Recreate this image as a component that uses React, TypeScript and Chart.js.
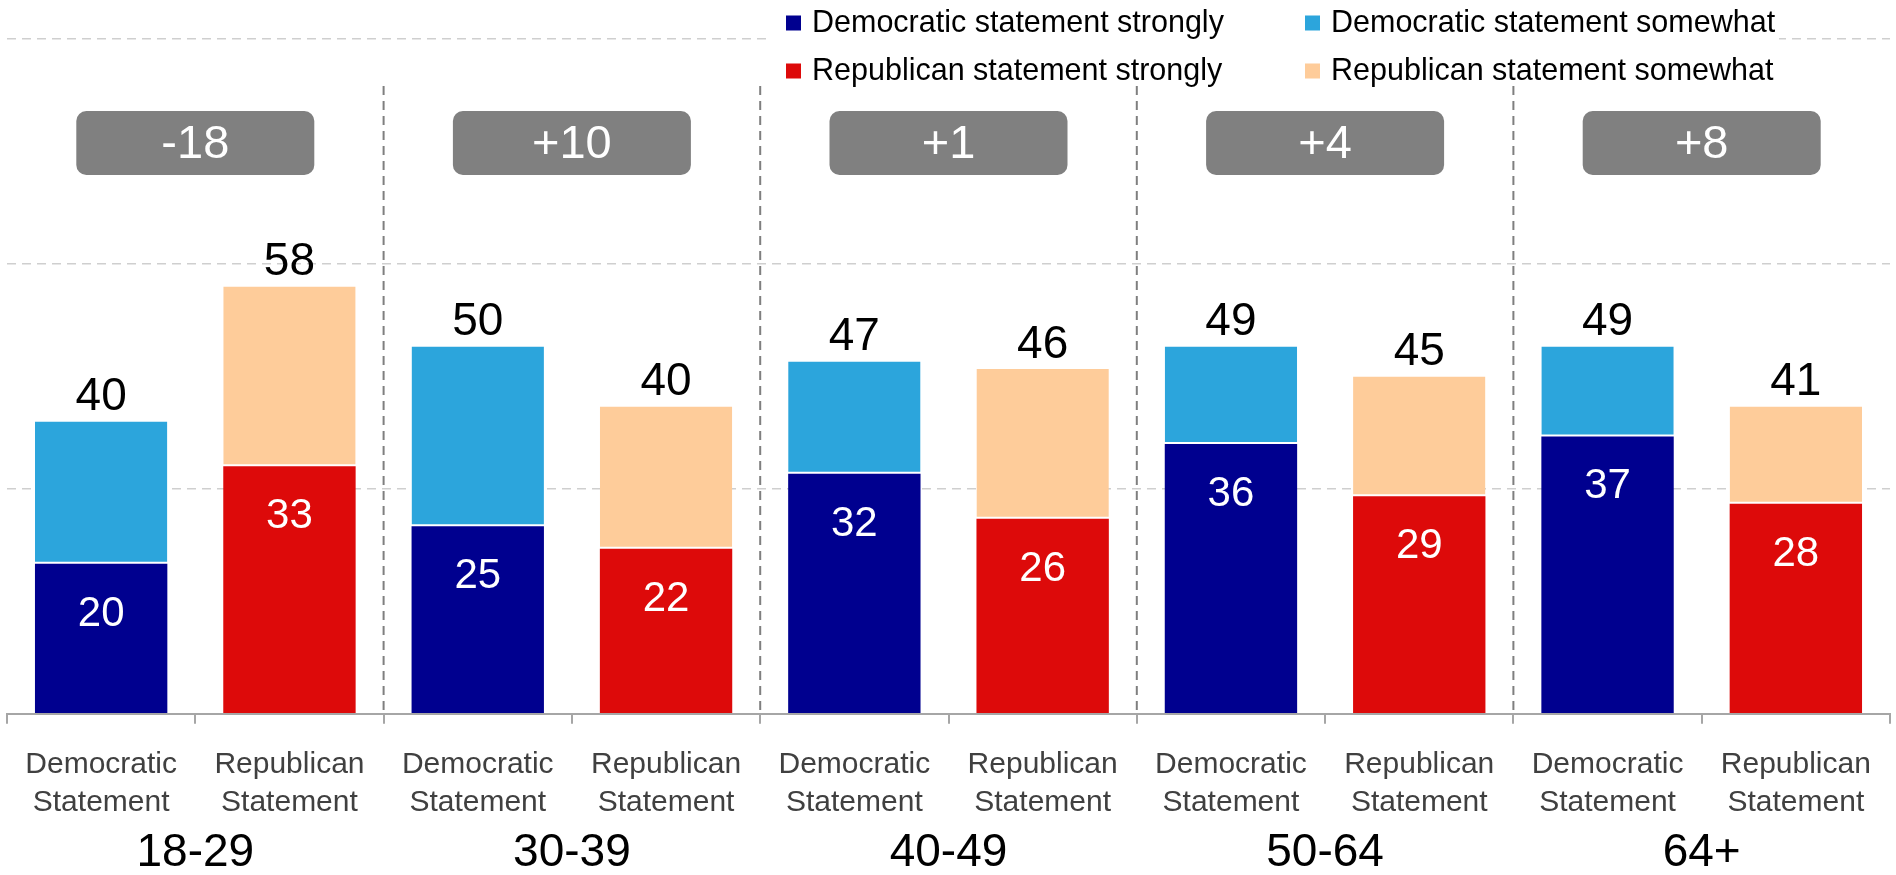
import React, { useEffect, useRef } from 'react';
import { Chart, registerables } from 'chart.js';

Chart.register(...registerables);

// ---------- data ----------
const ageGroups = ['18-29', '30-39', '40-49', '50-64', '64+'];
const statementLabels = [
  ['Democratic', 'Statement'],
  ['Republican', 'Statement'],
];
const demStrong = [20, 25, 32, 36, 37];
const demSomewhat = [19, 24, 15, 13, 12];
const repStrong = [33, 22, 26, 29, 28];
const repSomewhat = [24, 19, 20, 16, 13];
const demTotals = [40, 50, 47, 49, 49];
const repTotals = [58, 40, 46, 45, 41];
const netLabels = ['-18', '+10', '+1', '+4', '+8'];
const legendNames = [
  'Democratic statement strongly',
  'Democratic statement somewhat',
  'Republican statement strongly',
  'Republican statement somewhat',
];
const yTickValues = [0, 30, 60, 90];

// ---------- styles ----------
const FONT = "'Liberation Sans', Arial, Helvetica, sans-serif";
const C_DEM_STRONG = '#00008f';
const C_DEM_SOME = '#2ca5dc';
const C_REP_STRONG = '#dd0a0a';
const C_REP_SOME = '#fecc9a';
const legendColors = [C_DEM_STRONG, C_DEM_SOME, C_REP_STRONG, C_REP_SOME];

const categories = ageGroups.flatMap(() => statementLabels);
const demSlot = (arr: number[]) => arr.flatMap((v) => [v, null]);
const repSlot = (arr: number[]) => arr.flatMap((v) => [null, v]);

const overlayPlugin = {
  id: 'overlay',
  beforeDatasetsDraw(chart: any) {
    const { ctx, chartArea, scales } = chart;
    const xs = scales.x;
    ctx.save();
    ctx.strokeStyle = '#7f7f7f';
    ctx.lineWidth = 2;
    ctx.setLineDash([9, 6]);
    for (let g = 1; g < ageGroups.length; g++) {
      const x = (xs.getPixelForValue(2 * g - 1) + xs.getPixelForValue(2 * g)) / 2;
      ctx.beginPath();
      ctx.moveTo(x, 86);
      ctx.lineTo(x, chartArea.bottom);
      ctx.stroke();
    }
    ctx.restore();
  },
  afterDatasetsDraw(chart: any) {
    const { ctx } = chart;
    const mDS = chart.getDatasetMeta(0);
    const mDW = chart.getDatasetMeta(1);
    const mRS = chart.getDatasetMeta(2);
    const mRW = chart.getDatasetMeta(3);
    ctx.save();
    ctx.textAlign = 'center';
    ctx.textBaseline = 'alphabetic';
    ageGroups.forEach((_, g) => {
      const dS = mDS.data[2 * g];
      const dW = mDW.data[2 * g];
      const rS = mRS.data[2 * g + 1];
      const rW = mRW.data[2 * g + 1];
      ctx.fillStyle = '#000';
      ctx.font = `46px ${FONT}`;
      ctx.fillText(String(demTotals[g]), dW.x, dW.y - 11);
      ctx.fillText(String(repTotals[g]), rW.x, rW.y - 11);
      ctx.fillStyle = '#fff';
      ctx.font = `42px ${FONT}`;
      ctx.fillText(String(demStrong[g]), dS.x, dS.y + 62);
      ctx.fillText(String(repStrong[g]), rS.x, rS.y + 62);
    });
    ctx.restore();
  },
  afterDraw(chart: any) {
    const { ctx, scales } = chart;
    const xs = scales.x;
    ctx.save();
    // legend
    ctx.fillStyle = '#fff';
    ctx.fillRect(772, 0, 1007, 84);
    const colX = [786, 1305];
    const rowY = [23, 71];
    legendNames.forEach((name, i) => {
      const cx = colX[i % 2];
      const cy = rowY[Math.floor(i / 2)];
      ctx.fillStyle = legendColors[i];
      ctx.fillRect(cx, cy - 7.5, 15, 15);
      ctx.fillStyle = '#000';
      ctx.font = `30.5px ${FONT}`;
      ctx.textAlign = 'left';
      ctx.textBaseline = 'middle';
      ctx.fillText(name, cx + 26, cy + 1);
    });
    // net boxes and group labels
    ageGroups.forEach((grp, g) => {
      const cx = (xs.getPixelForValue(2 * g) + xs.getPixelForValue(2 * g + 1)) / 2;
      const w = 238;
      const h = 64;
      ctx.fillStyle = '#808080';
      ctx.beginPath();
      ctx.roundRect(cx - w / 2, 111, w, h, 10);
      ctx.fill();
      ctx.fillStyle = '#fff';
      ctx.font = `47px ${FONT}`;
      ctx.textAlign = 'center';
      ctx.textBaseline = 'middle';
      ctx.fillText(netLabels[g], cx, 145);
      ctx.fillStyle = '#000';
      ctx.font = `46px ${FONT}`;
      ctx.textBaseline = 'alphabetic';
      ctx.fillText(grp, cx, 866);
    });
    ctx.restore();
  },
};

export default function App() {
  const canvasRef = useRef<HTMLCanvasElement | null>(null);

  useEffect(() => {
    if (!canvasRef.current) return;
    const somewhatBorder = { top: 0, left: 0, right: 0, bottom: 2 };
    const chart = new Chart(canvasRef.current, {
      type: 'bar',
      data: {
        labels: categories,
        datasets: [
          {
            label: legendNames[0],
            data: demSlot(demStrong),
            backgroundColor: C_DEM_STRONG,
          },
          {
            label: legendNames[1],
            data: demSlot(demSomewhat),
            backgroundColor: C_DEM_SOME,
            borderColor: '#ffffff',
            borderWidth: somewhatBorder,
            borderSkipped: false,
          },
          {
            label: legendNames[2],
            data: repSlot(repStrong),
            backgroundColor: C_REP_STRONG,
          },
          {
            label: legendNames[3],
            data: repSlot(repSomewhat),
            backgroundColor: C_REP_SOME,
            borderColor: '#ffffff',
            borderWidth: somewhatBorder,
            borderSkipped: false,
          },
        ] as any,
      },
      options: {
        responsive: false,
        animation: false,
        barPercentage: 0.703,
        categoryPercentage: 1,
        layout: { padding: { top: 39, left: 7, right: 6, bottom: 31 } },
        plugins: {
          legend: { display: false },
          tooltip: { enabled: false },
        },
        scales: {
          x: {
            stacked: true,
            grid: {
              display: true,
              drawOnChartArea: false,
              drawTicks: true,
              tickLength: 10,
              color: '#a6a6a6',
              lineWidth: 2,
              offset: true,
            },
            border: { display: true, color: '#a6a6a6', width: 2 },
            ticks: {
              color: '#404040',
              font: { family: FONT, size: 30, lineHeight: 1.27 },
              padding: 22,
              maxRotation: 0,
              autoSkip: false,
            },
          },
          y: {
            stacked: true,
            min: 0,
            max: 90,
            afterBuildTicks: (s: any) => {
              s.ticks = yTickValues.map((v) => ({ value: v }));
            },
            afterFit: (s: any) => {
              s.width = 0;
            },
            ticks: { display: false },
            border: { display: false, dash: [9, 6] },
            grid: {
              drawTicks: false,
              lineWidth: 1.5,
              color: (c: any) => (c.tick && c.tick.value === 0 ? 'rgba(0,0,0,0)' : '#cfcfcf'),
            },
          },
        },
      } as any,
      plugins: [overlayPlugin],
    });
    return () => chart.destroy();
  }, []);

  return (
    <div style={{ position: 'absolute', left: 0, top: 0, width: 1896, height: 875, background: '#fff' }}>
      <canvas ref={canvasRef} width={1896} height={875} style={{ display: 'block' }} />
    </div>
  );
}
